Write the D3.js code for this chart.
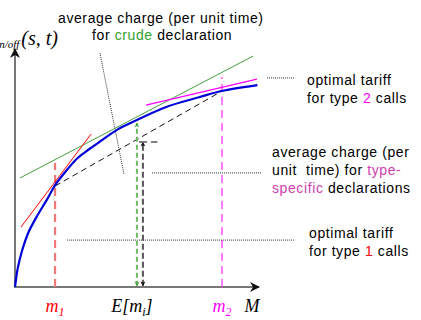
<!DOCTYPE html>
<html>
<head>
<meta charset="utf-8">
<script src="https://cdn.jsdelivr.net/npm/d3@7"></script>
<style>
  body { margin: 0; background: #fff; }
  svg { display: block; }
  .note { font-family: "Liberation Sans", Arial, sans-serif; font-size: 14px; letter-spacing: 0.6px; fill: #000; white-space: pre; }
  .math { font-family: "Liberation Serif", "Times New Roman", serif; font-style: italic; }
</style>
</head>
<body>
<div id="chart"></div>
<script>
// charge curve C(M) (x in M units, y in charge units)
const curveX = [0, 0.12, 0.3, 0.55, 0.9, 1.33, 1.67, 2.17, 2.6, 3.1, 3.55, 4.25, 4.9, 6.3, 7.7, 8.6, 10.1];
const curveY = [0, 0.85, 1.6, 2.35, 3.05, 3.8, 4.43, 5.1, 5.6, 6.0, 6.33, 6.83, 7.17, 7.83, 8.26, 8.52, 8.78];

// key abscissas
const m1 = 1.67, m2 = 8.625, eCrude = 5.08, eSpecific = 5.33;

// straight lines [x0, y0, x1, y1]
const tangentM1 = [0.25, 2.61, 3.17, 6.65];
const tangentCrude = [0.21, 4.74, 9.92, 10.04];
const tangentM2 = [5.46, 7.91, 10.08, 9.04];
const chord = [1.67, 4.39, 8.625, 8.52];

// heights of the vertical markers
const m1Top = 5.39, m2Top = 9.13, crudeTop = 7.13, specificTop = 6.30;

// leader lines for the notes
const leaderCrude = [3.54, 10.17, 4.54, 4.91];
const leaderType2 = [10.5, 9.09, 11.67, 9.09];
const leaderSpecific = [5.71, 4.96, 10.29, 4.96];
const leaderType1 = [2.17, 2.04, 11.67, 2.04];

const W = 421, H = 320;
const svg = d3.select('#chart').append('svg').attr('width', W).attr('height', H);

const x = d3.scaleLinear().domain([0, 10]).range([15, 255]);
const y = d3.scaleLinear().domain([0, 10]).range([287, 57]);

const defs = svg.append('defs');
function marker(id, color) {
  defs.append('marker')
    .attr('id', id).attr('viewBox', '0 0 10 10')
    .attr('refX', 9).attr('refY', 5)
    .attr('markerWidth', 5).attr('markerHeight', 5)
    .attr('markerUnits', 'userSpaceOnUse')
    .attr('orient', 'auto-start-reverse')
    .append('path').attr('d', 'M0,0 L10,5 L0,10 L3,5 Z').attr('fill', color);
}
marker('arrGreen', '#44a040');
marker('arrBlack', '#111');
defs.append('marker')
  .attr('id', 'arrAxis').attr('viewBox', '0 0 10 10')
  .attr('refX', 9).attr('refY', 5)
  .attr('markerWidth', 10).attr('markerHeight', 10)
  .attr('markerUnits', 'userSpaceOnUse')
  .attr('orient', 'auto')
  .append('path').attr('d', 'M0,0 L10,5 L0,10 L3,5 Z').attr('fill', '#111');

function seg(l, color, width, dash) {
  return svg.append('line')
    .attr('x1', x(l[0])).attr('y1', y(l[1]))
    .attr('x2', x(l[2])).attr('y2', y(l[3]))
    .attr('stroke', color).attr('stroke-width', width)
    .attr('stroke-dasharray', dash || null);
}

// axes
svg.append('line').attr('x1', x(0)).attr('y1', y(0) + 1).attr('x2', x(0)).attr('y2', 49)
  .attr('stroke', '#777').attr('stroke-width', 2).attr('marker-end', 'url(#arrAxis)');
svg.append('line').attr('x1', x(0) - 1).attr('y1', y(0)).attr('x2', 259).attr('y2', y(0))
  .attr('stroke', '#777').attr('stroke-width', 2).attr('marker-end', 'url(#arrAxis)');

// vertical markers
seg([m1, 0, m1, m1Top], '#f07878', 2.2, '8,5');
seg([m2, 0, m2, m2Top], '#ff44ff', 1.4, '8,5');

// leader lines
seg(leaderCrude, '#333', 1, '1,1');
seg(leaderType2, '#333', 1, '1,1');
seg(leaderSpecific, '#333', 1, '1,1');
seg(leaderType1, '#333', 1, '1,1');

// tangents and chord
seg(tangentCrude, '#44a040', 1);
seg(tangentM1, '#ff0000', 1);
seg(tangentM2, '#ff00ff', 1.2);
seg(chord, '#111', 1, '6,4');

// double arrows
seg([eCrude, 0.05, eCrude, crudeTop], '#6cbb60', 2, '5,3')
  .attr('marker-start', 'url(#arrGreen)').attr('marker-end', 'url(#arrGreen)');
seg([eSpecific, 0.05, eSpecific, specificTop], '#555', 2, '6,3')
  .attr('marker-start', 'url(#arrBlack)').attr('marker-end', 'url(#arrBlack)');
seg([eSpecific - 0.16, specificTop, eSpecific + 0.6, specificTop], '#555', 1.5, '8,4');

// curve
const pts = curveX.map((v, i) => [v, curveY[i]]);
svg.append('path')
  .datum(pts)
  .attr('fill', 'none')
  .attr('stroke', '#0000d8')
  .attr('stroke-width', 2.2)
  .attr('d', d3.line().x(d => x(d[0])).y(d => y(d[1])).curve(d3.curveCatmullRom.alpha(0.5)));

// y-axis label (cut at the left edge, as in the original)
const yl = svg.append('text').attr('class', 'math').attr('x', 58).attr('y', 45)
  .attr('text-anchor', 'end').attr('font-size', 20);
yl.append('tspan').text('C');
yl.append('tspan').attr('font-size', 11).attr('dy', 3).text('on/off');
yl.append('tspan').attr('dy', -3).attr('dx', 2).text('(s, t)');

// x labels
function mathLabel(cx, parts, color) {
  const t = svg.append('text').attr('class', 'math').attr('x', cx).attr('y', 312)
    .attr('text-anchor', 'middle').attr('font-size', 18).attr('fill', color);
  parts.forEach(p => {
    const s = t.append('tspan').text(p.t);
    if (p.sub) s.attr('font-size', 12).attr('dy', 4);
    if (p.up) s.attr('dy', -4);
  });
}
mathLabel(x(m1), [{ t: 'm' }, { t: '1', sub: true }], '#ff0000');
mathLabel(x(eCrude) - 5, [{ t: 'E[m' }, { t: 'i', sub: true }, { t: ']', up: true }], '#000');
mathLabel(x(m2), [{ t: 'm' }, { t: '2', sub: true }], '#ff00ff');
mathLabel(252, [{ t: 'M' }], '#000');

// notes
function note(px, py, lines) {
  const t = svg.append('text').attr('class', 'note').attr('x', px).attr('y', py);
  lines.forEach((ln, i) => {
    const row = t.append('tspan').attr('x', px).attr('dy', i === 0 ? 0 : 18);
    ln.forEach(p => row.append('tspan').attr('fill', p.c || '#000').text(p.t));
  });
}
note(58, 23, [[{ t: 'average charge (per unit time)' }]]);
note(92, 40, [[{ t: 'for ' }, { t: 'crude', c: '#33a02c' }, { t: ' declaration' }]]);
note(307, 85, [[{ t: 'optimal tariff' }], [{ t: 'for type ' }, { t: '2', c: '#ff00ff' }, { t: ' calls' }]]);
note(272, 157, [[{ t: 'average charge (per' }], [{ t: 'unit  time) for ' }, { t: 'type-', c: '#d040b0' }],
  [{ t: 'specific', c: '#d040b0' }, { t: ' declarations' }]]);
note(309, 238, [[{ t: 'optimal tariff' }], [{ t: 'for type ' }, { t: '1', c: '#ff0000' }, { t: ' calls' }]]);
</script>
</body>
</html>
